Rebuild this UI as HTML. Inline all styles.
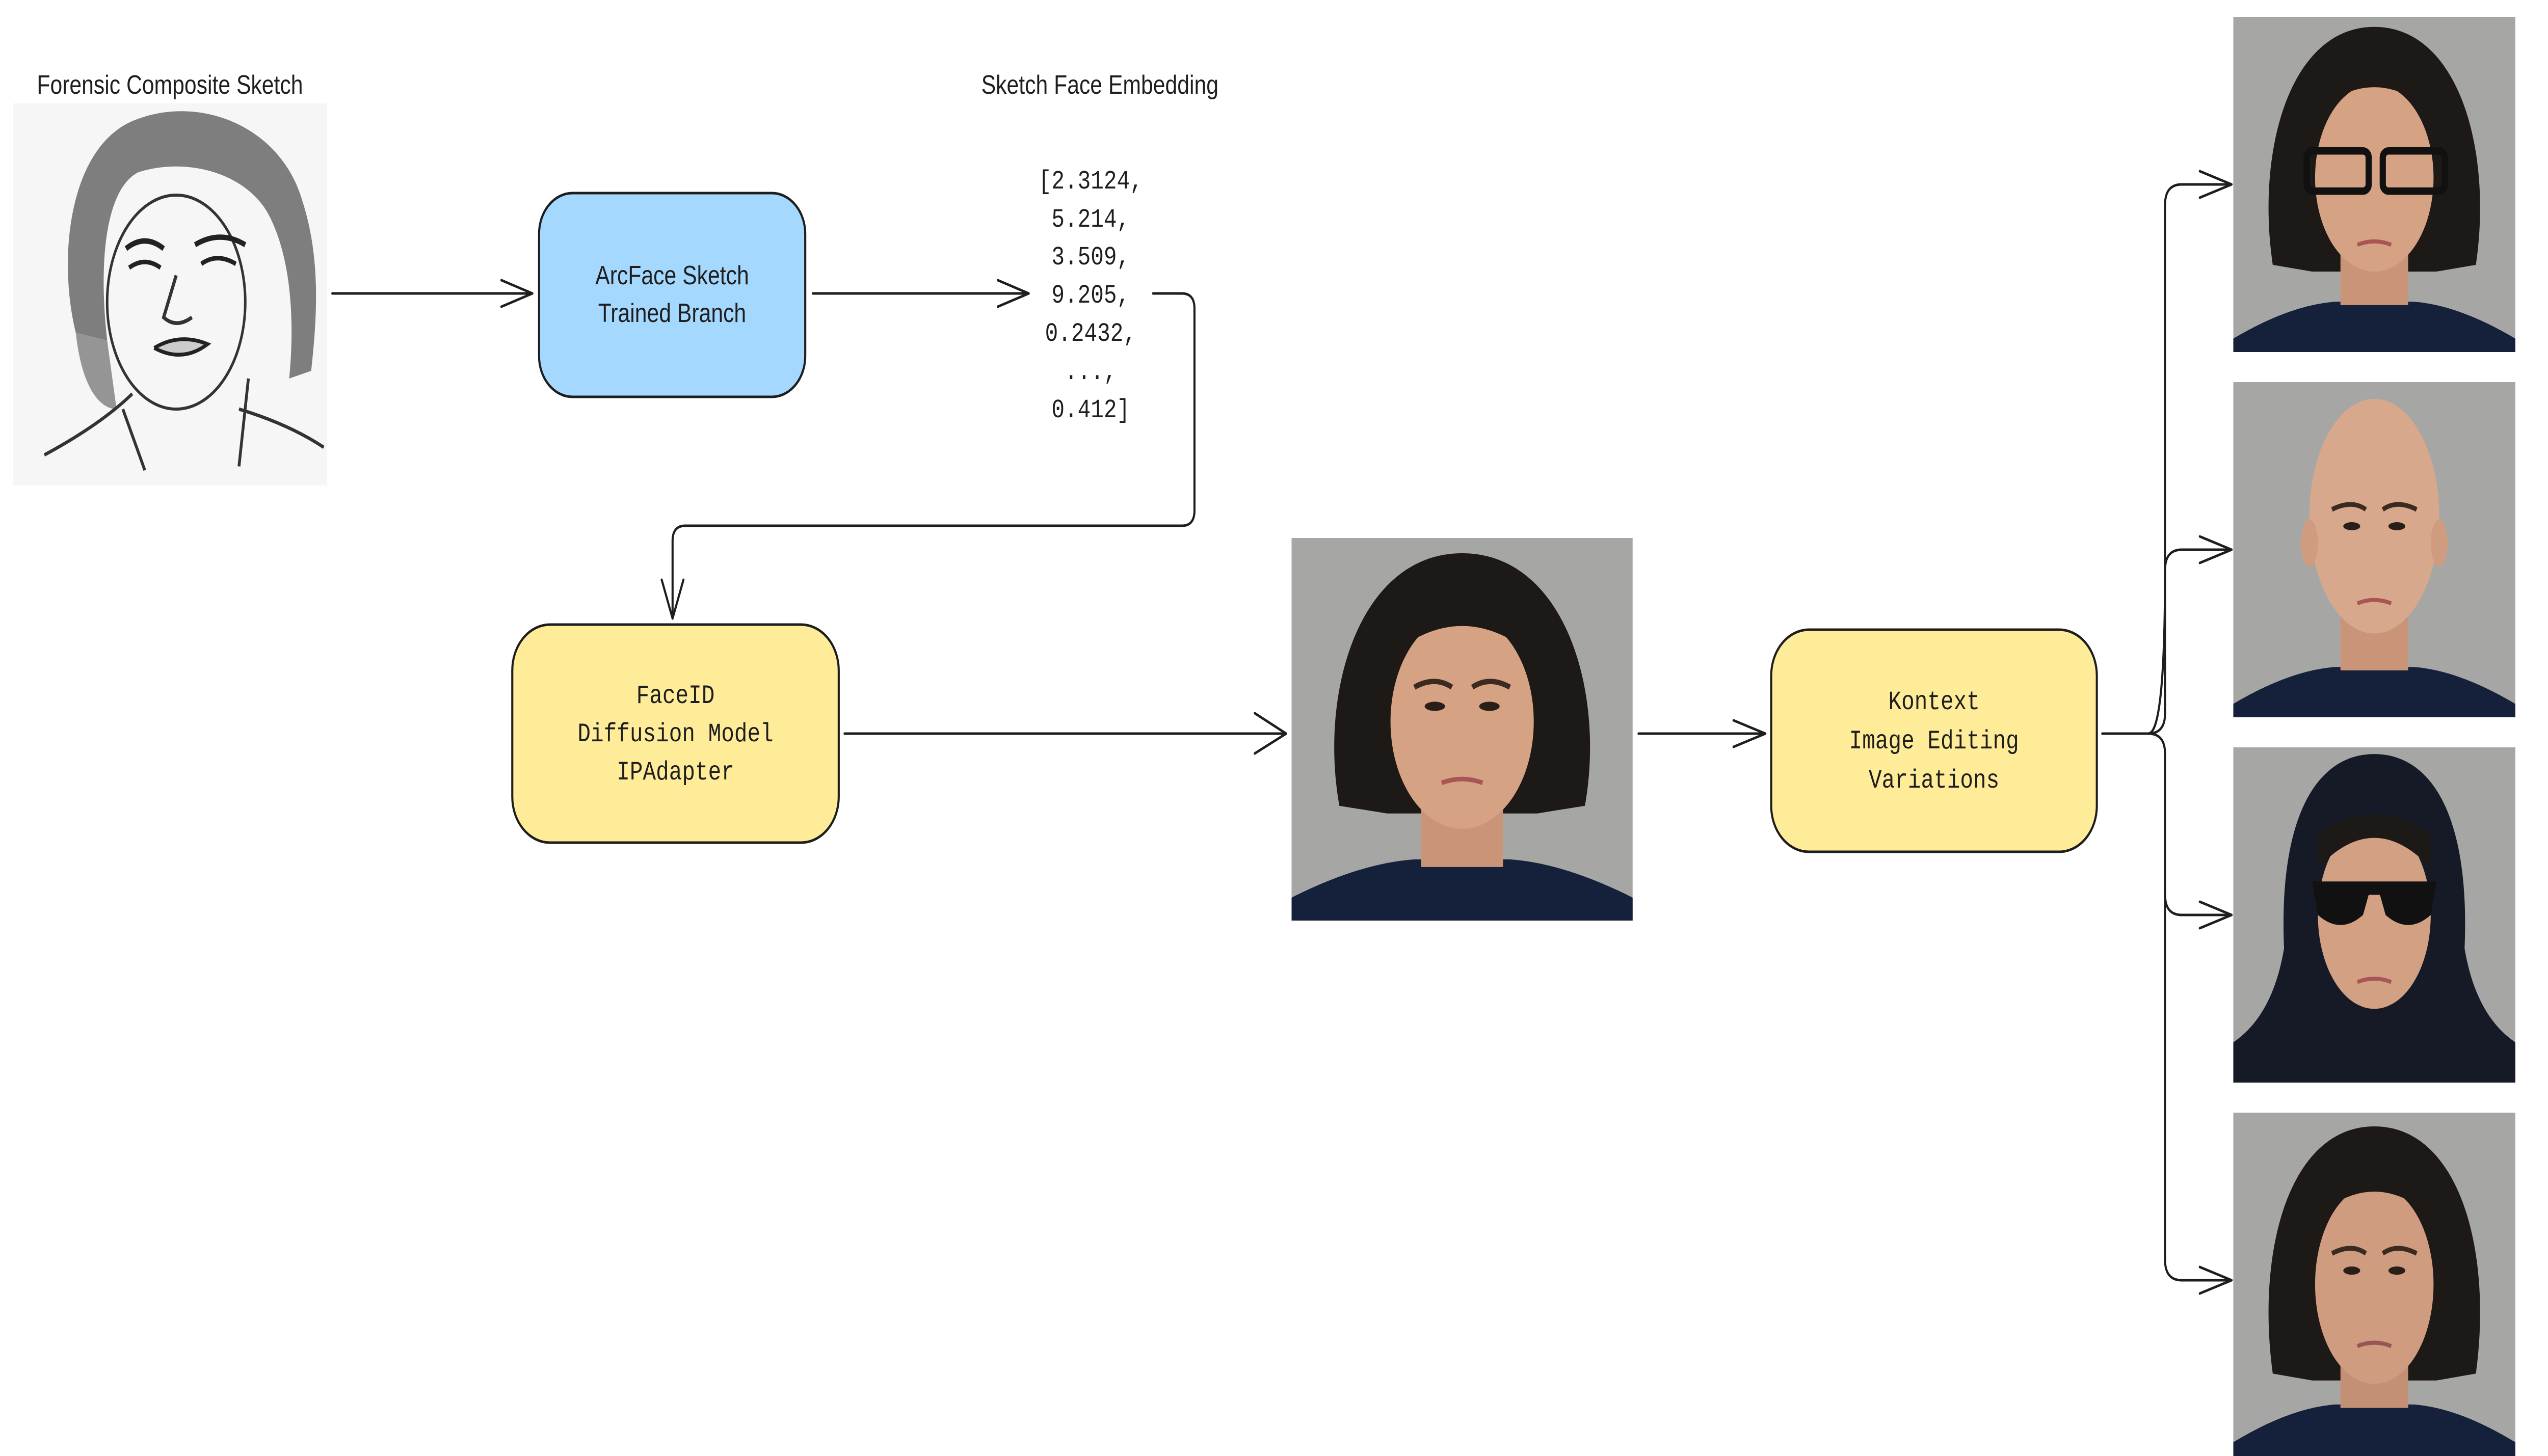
<!DOCTYPE html>
<html><head><meta charset="utf-8">
<style>
html,body{margin:0;padding:0;background:#fff;width:100%;height:100%;overflow:hidden;}
#root{position:absolute;left:0;top:0;width:100vw;height:100vh;display:block;}
svg text{fill:#1e1e1e;}
.s{font-family:"Liberation Sans",sans-serif;font-size:52px;}
.m{font-family:"Liberation Mono",monospace;font-size:52px;}
</style></head>
<body>
<svg id="root" viewBox="0 0 6088 2858" preserveAspectRatio="none" xmlns="http://www.w3.org/2000/svg">

<!-- Sketch -->
<text class="s" x="406" y="184" text-anchor="middle">Forensic Composite Sketch</text>
<svg x="31" y="203" width="750" height="750" viewBox="0 0 100 100" preserveAspectRatio="none">
  <rect width="100" height="100" fill="#f6f6f6"/>
  <path d="M20 60 C14 40 18 10 40 4 C60 -2 85 6 92 25 C98 40 97 55 95 70 L88 72 C90 55 88 40 82 30 C75 18 55 14 40 18 C30 22 27 40 30 62 Z" fill="#555" opacity="0.75"/>
  <path d="M20 60 C22 75 28 80 33 80 L30 62 Z" fill="#555" opacity="0.6"/>
  <ellipse cx="52" cy="52" rx="22" ry="28" fill="none" stroke="#333" stroke-width="0.8"/>
  <path d="M36 38 Q42 34 48 38 M58 37 Q66 33 74 37" stroke="#222" stroke-width="1.4" fill="none"/>
  <path d="M37 43 Q42 40 47 43 M60 42 Q65 39 71 42" stroke="#222" stroke-width="1.2" fill="none"/>
  <path d="M52 45 L48 56 Q52 59 57 56" stroke="#333" stroke-width="1" fill="none"/>
  <path d="M45 64 Q53 60 62 63 Q54 68 45 64" stroke="#222" stroke-width="1" fill="#ccc"/>
  <path d="M10 92 Q28 84 38 76 M35 80 L42 96 M75 72 L72 95 M72 80 Q88 84 99 90" stroke="#333" stroke-width="0.9" fill="none"/>
</svg>

<!-- ArcFace -->
<rect x="1288" y="379" width="636" height="400" rx="80" fill="#a5d8ff" stroke="#1e1e1e" stroke-width="5"/>
<text class="s" x="1606" y="558" text-anchor="middle">ArcFace Sketch</text>
<text class="s" x="1606" y="632" text-anchor="middle">Trained Branch</text>

<!-- Embedding -->
<text class="s" x="2628" y="184" text-anchor="middle">Sketch Face Embedding</text>
<g class="m" text-anchor="middle">
<text x="2606" y="370">[2.3124,</text>
<text x="2606" y="445">5.214,</text>
<text x="2606" y="519">3.509,</text>
<text x="2606" y="594">9.205,</text>
<text x="2606" y="669">0.2432,</text>
<text x="2606" y="744">...,</text>
<text x="2606" y="819">0.412]</text>
</g>

<!-- connectors -->
<g fill="none" stroke="#1e1e1e" stroke-width="5" stroke-linecap="round" stroke-linejoin="round">
  <path d="M794 576 H1270"/><path d="M1198 550 L1272 576 L1198 602"/>
  <path d="M1942 576 H2456"/><path d="M2384 550 L2458 576 L2384 602"/>
  <path d="M2755 576 H2824 Q2854 576 2854 606 V1002 Q2854 1032 2824 1032 H1637 Q1607 1032 1607 1062 V1212"/>
  <path d="M1581 1138 L1607 1214 L1633 1138"/>
  <path d="M2018 1440 H3071"/><path d="M2998 1400 L3073 1440 L2998 1479"/>
  <path d="M3915 1440 H4216"/><path d="M4142 1414 L4218 1440 L4142 1466"/>
  <path d="M5023 1440 H5133 Q5173 1440 5173 1400 V402 Q5173 362 5213 362 H5330"/>
  <path d="M5133 1440 Q5173 1440 5173 1119 Q5173 1079 5213 1079 H5330"/>
  <path d="M5133 1440 Q5173 1440 5173 1480 V1756 Q5173 1796 5213 1796 H5330"/>
  <path d="M5173 1756 V2473 Q5173 2513 5213 2513 H5330"/>
  <path d="M5256 336 L5332 362 L5256 388"/>
  <path d="M5256 1053 L5332 1079 L5256 1105"/>
  <path d="M5256 1770 L5332 1796 L5256 1822"/>
  <path d="M5256 2487 L5332 2513 L5256 2539"/>
</g>

<!-- FaceID -->
<rect x="1224" y="1226" width="780" height="428" rx="90" fill="#ffec99" stroke="#1e1e1e" stroke-width="5"/>
<g class="m" text-anchor="middle">
<text x="1614" y="1380">FaceID</text>
<text x="1614" y="1455">Diffusion Model</text>
<text x="1614" y="1530">IPAdapter</text>
</g>

<!-- Kontext -->
<rect x="4232" y="1236" width="778" height="436" rx="90" fill="#ffec99" stroke="#1e1e1e" stroke-width="5"/>
<g class="m" text-anchor="middle">
<text x="4621" y="1392">Kontext</text>
<text x="4621" y="1469">Image Editing</text>
<text x="4621" y="1546">Variations</text>
</g>

<!-- Central photo -->
<svg x="3086" y="1056" width="815" height="751" viewBox="0 0 100 100" preserveAspectRatio="none">
  <rect width="100" height="100" fill="#a6a7a5"/>
  <path d="M14 70 C8 40 20 4 50 4 C80 4 92 40 86 70 L72 72 L28 72 Z" fill="#1c1916"/>
  <path d="M0 100 L0 94 Q20 85 36 84 L64 84 Q80 85 100 94 L100 100 Z" fill="#15203a"/>
  <rect x="38" y="68" width="24" height="18" fill="#c99478"/>
  <ellipse cx="50" cy="48" rx="21" ry="28" fill="#d6a284"/>
  <path d="M30 30 Q50 16 70 30 L70 22 Q50 10 30 22 Z" fill="#1c1916"/>
  <path d="M36 39 Q42 36 47 39 M53 39 Q58 36 64 39" stroke="#3a2a20" stroke-width="1.4" fill="none"/>
  <ellipse cx="42" cy="44" rx="3" ry="1.2" fill="#2a1e18"/><ellipse cx="58" cy="44" rx="3" ry="1.2" fill="#2a1e18"/>
  <path d="M44 64 Q50 62 56 64" stroke="#a55" stroke-width="1.2" fill="none"/>
</svg>

<!-- Right photos -->
<svg x="5336" y="33" width="674" height="658" viewBox="0 0 100 100" preserveAspectRatio="none">
  <rect width="100" height="100" fill="#a6a7a5"/>
  <path d="M14 74 C8 40 20 3 50 3 C80 3 92 40 86 74 L72 76 L28 76 Z" fill="#1c1916"/>
  <path d="M0 100 L0 96 Q20 86 36 85 L64 85 Q80 86 100 96 L100 100 Z" fill="#15203a"/>
  <rect x="38" y="68" width="24" height="18" fill="#c99478"/>
  <ellipse cx="50" cy="48" rx="21" ry="28" fill="#d6a284"/>
  <path d="M30 28 Q50 14 70 28 L70 20 Q50 8 30 20 Z" fill="#1c1916"/>
  <rect x="26" y="40" width="22" height="12" rx="2" fill="none" stroke="#111" stroke-width="2.2"/>
  <rect x="53" y="40" width="22" height="12" rx="2" fill="none" stroke="#111" stroke-width="2.2"/>
  <path d="M44 68 Q50 66 56 68" stroke="#a55" stroke-width="1.2" fill="none"/>
</svg>
<svg x="5336" y="750" width="674" height="658" viewBox="0 0 100 100" preserveAspectRatio="none">
  <rect width="100" height="100" fill="#a6a7a5"/>
  <path d="M0 100 L0 96 Q20 86 36 85 L64 85 Q80 86 100 96 L100 100 Z" fill="#15203a"/>
  <rect x="38" y="68" width="24" height="18" fill="#c99478"/>
  <ellipse cx="50" cy="40" rx="23" ry="35" fill="#d8a88c"/>
  <ellipse cx="27" cy="48" rx="3" ry="7" fill="#cf9c80"/><ellipse cx="73" cy="48" rx="3" ry="7" fill="#cf9c80"/>
  <path d="M35 38 Q42 35 47 38 M53 38 Q58 35 65 38" stroke="#3a2a20" stroke-width="1.4" fill="none"/>
  <ellipse cx="42" cy="43" rx="3" ry="1.2" fill="#2a1e18"/><ellipse cx="58" cy="43" rx="3" ry="1.2" fill="#2a1e18"/>
  <path d="M44 66 Q50 64 56 66" stroke="#a55" stroke-width="1.2" fill="none"/>
</svg>
<svg x="5336" y="1467" width="674" height="658" viewBox="0 0 100 100" preserveAspectRatio="none">
  <rect width="100" height="100" fill="#a6a7a5"/>
  <path d="M0 100 L0 88 Q14 80 18 60 C16 20 30 2 50 2 C70 2 84 20 82 60 Q86 80 100 88 L100 100 Z" fill="#151a26"/>
  <ellipse cx="50" cy="50" rx="20" ry="28" fill="#d2a082"/>
  <path d="M30 36 Q50 18 70 36 L70 26 Q50 14 30 26 Z" fill="#1c1916"/>
  <path d="M28 40 H72 L70 50 Q62 56 54 50 L52 44 H48 L46 50 Q38 56 30 50 Z" fill="#111"/>
  <path d="M44 70 Q50 68 56 70" stroke="#a55" stroke-width="1.2" fill="none"/>
</svg>
<svg x="5336" y="2184" width="674" height="674" viewBox="0 0 100 100" preserveAspectRatio="none">
  <rect width="100" height="100" fill="#a6a7a5"/>
  <path d="M14 76 C8 40 20 4 50 4 C80 4 92 40 86 76 L72 78 L28 78 Z" fill="#1c1916"/>
  <path d="M0 100 L0 96 Q20 86 36 85 L64 85 Q80 86 100 96 L100 100 Z" fill="#15203a"/>
  <rect x="38" y="68" width="24" height="18" fill="#c39076"/>
  <ellipse cx="50" cy="50" rx="21" ry="29" fill="#cf9c80"/>
  <path d="M30 30 Q50 16 70 30 L70 20 Q50 8 30 20 Z" fill="#1c1916"/>
  <path d="M35 41 Q42 38 47 41 M53 41 Q58 38 65 41" stroke="#3a2a20" stroke-width="1.4" fill="none"/>
  <ellipse cx="42" cy="46" rx="3" ry="1.2" fill="#2a1e18"/><ellipse cx="58" cy="46" rx="3" ry="1.2" fill="#2a1e18"/>
  <path d="M44 68 Q50 66 56 68" stroke="#955" stroke-width="1.2" fill="none"/>
</svg>
</svg>
</body></html>
